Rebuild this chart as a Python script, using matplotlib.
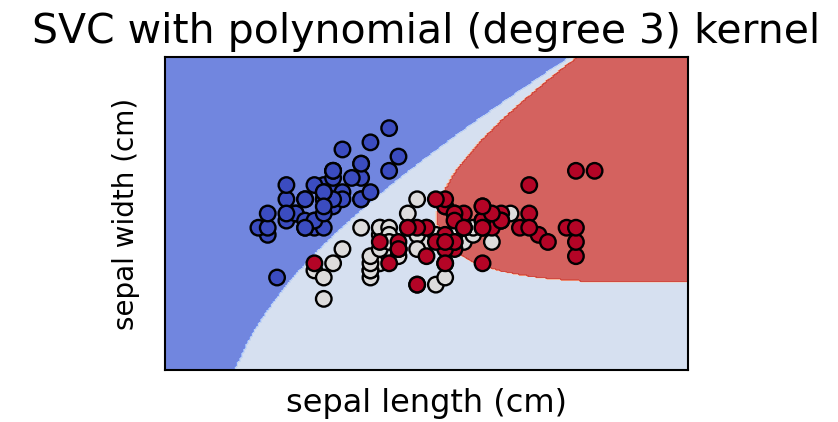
import numpy as np
import matplotlib
matplotlib.use("Agg")
import matplotlib.pyplot as plt

# iris: sepal length, sepal width, class
sepal_length = [
    5.1, 4.9, 4.7, 4.6, 5.0, 5.4, 4.6, 5.0, 4.4, 4.9, 5.4, 4.8, 4.8, 4.3, 5.8, 5.7, 5.4, 5.1, 5.7, 5.1,
    5.4, 5.1, 4.6, 5.1, 4.8, 5.0, 5.0, 5.2, 5.2, 4.7, 4.8, 5.4, 5.2, 5.5, 4.9, 5.0, 5.5, 4.9, 4.4, 5.1,
    5.0, 4.5, 4.4, 5.0, 5.1, 4.8, 5.1, 4.6, 5.3, 5.0,
    7.0, 6.4, 6.9, 5.5, 6.5, 5.7, 6.3, 4.9, 6.6, 5.2, 5.0, 5.9, 6.0, 6.1, 5.6, 6.7, 5.6, 5.8, 6.2, 5.6,
    5.9, 6.1, 6.3, 6.1, 6.4, 6.6, 6.8, 6.7, 6.0, 5.7, 5.5, 5.5, 5.8, 6.0, 5.4, 6.0, 6.7, 6.3, 5.6, 5.5,
    5.5, 6.1, 5.8, 5.0, 5.6, 5.7, 5.7, 6.2, 5.1, 5.7,
    6.3, 5.8, 7.1, 6.3, 6.5, 7.6, 4.9, 7.3, 6.7, 7.2, 6.5, 6.4, 6.8, 5.7, 5.8, 6.4, 6.5, 7.7, 7.7, 6.0,
    6.9, 5.6, 7.7, 6.3, 6.7, 7.2, 6.2, 6.1, 6.4, 7.2, 7.4, 7.9, 6.4, 6.3, 6.1, 7.7, 6.3, 6.4, 6.0, 6.9,
    6.7, 6.9, 5.8, 6.8, 6.7, 6.7, 6.3, 6.5, 6.2, 5.9]
sepal_width = [
    3.5, 3.0, 3.2, 3.1, 3.6, 3.9, 3.4, 3.4, 2.9, 3.1, 3.7, 3.4, 3.0, 3.0, 4.0, 4.4, 3.9, 3.5, 3.8, 3.8,
    3.4, 3.7, 3.6, 3.3, 3.4, 3.0, 3.4, 3.5, 3.4, 3.2, 3.1, 3.4, 4.1, 4.2, 3.1, 3.2, 3.5, 3.6, 3.0, 3.4,
    3.5, 2.3, 3.2, 3.5, 3.8, 3.0, 3.8, 3.2, 3.7, 3.3,
    3.2, 3.2, 3.1, 2.3, 2.8, 2.8, 3.3, 2.4, 2.9, 2.7, 2.0, 3.0, 2.2, 2.9, 2.9, 3.1, 3.0, 2.7, 2.2, 2.5,
    3.2, 2.8, 2.5, 2.8, 2.9, 3.0, 2.8, 3.0, 2.9, 2.6, 2.4, 2.4, 2.7, 2.7, 3.0, 3.4, 3.1, 2.3, 3.0, 2.5,
    2.6, 3.0, 2.6, 2.3, 2.7, 3.0, 2.9, 2.9, 2.5, 2.8,
    3.3, 2.7, 3.0, 2.9, 3.0, 3.0, 2.5, 2.9, 2.5, 3.6, 3.2, 2.7, 3.0, 2.5, 2.8, 3.2, 3.0, 3.8, 2.6, 2.2,
    3.2, 2.8, 2.8, 2.7, 3.3, 3.2, 2.8, 3.0, 2.8, 3.0, 2.8, 3.8, 2.8, 2.8, 2.6, 3.0, 3.4, 3.1, 3.0, 3.1,
    3.1, 3.1, 2.7, 3.2, 3.3, 3.0, 2.5, 3.0, 3.4, 3.0]
species = [0] * 50 + [1] * 50 + [2] * 50

X = np.column_stack([sepal_length, sepal_width])
y = np.array(species)

C = 1.0
gamma = 0.5  # 'auto' = 1 / n_features
degree = 3


def kern(A, B):
    return (gamma * A @ B.T) ** degree


def fit_pair(Xp, yp):
    # SMO with maximal violating pair (libsvm style)
    K = kern(Xp, Xp)
    Q = yp[:, None] * yp[None, :] * K
    n = len(yp)
    a = np.zeros(n)
    G = -np.ones(n)
    dK = np.diag(K)
    for it in range(200000):
        up = ((yp > 0) & (a < C)) | ((yp < 0) & (a > 0))
        low = ((yp < 0) & (a < C)) | ((yp > 0) & (a > 0))
        v = -yp * G
        iu = np.where(up)[0]
        il = np.where(low)[0]
        i = iu[np.argmax(v[iu])]
        j = il[np.argmin(v[il])]
        if v[i] - v[j] < 1e-3:
            break
        quad = dK[i] + dK[j] - 2 * K[i, j]
        if quad <= 0:
            quad = 1e-12
        t = (v[i] - v[j]) / quad
        t = min(t, C - a[i] if yp[i] > 0 else a[i])
        t = min(t, a[j] if yp[j] > 0 else C - a[j])
        a[i] += yp[i] * t
        a[j] -= yp[j] * t
        G += Q[:, i] * yp[i] * t - Q[:, j] * yp[j] * t
    yG = yp * G
    free = (a > 1e-12) & (a < C - 1e-12)
    if free.any():
        rho = yG[free].mean()
    else:
        ub = np.inf
        lb = -np.inf
        for k in range(n):
            if (a[k] >= C and yp[k] < 0) or (a[k] <= 0 and yp[k] > 0):
                ub = min(ub, yG[k])
            else:
                lb = max(lb, yG[k])
        rho = (ub + lb) / 2
    sv = a > 1e-12
    return Xp[sv], (a * yp)[sv], rho


models = []
for ci in range(3):
    for cj in range(ci + 1, 3):
        m = (y == ci) | (y == cj)
        yp = np.where(y[m] == ci, 1.0, -1.0)
        models.append((ci, cj, fit_pair(X[m], yp)))


def predict(P):
    votes = np.zeros((len(P), 3))
    for ci, cj, (sv, coef, rho) in models:
        d = kern(P, sv) @ coef - rho
        votes[:, ci] += d > 0
        votes[:, cj] += d <= 0
    return np.argmax(votes, axis=1)


x_min, x_max = X[:, 0].min() - 1, X[:, 0].max() + 1
y_min, y_max = X[:, 1].min() - 1, X[:, 1].max() + 1
xx, yy = np.meshgrid(np.linspace(x_min, x_max, 250), np.linspace(y_min, y_max, 250))
Z = predict(np.c_[xx.ravel(), yy.ravel()]).reshape(xx.shape)

fig = plt.figure(figsize=(8.38, 4.22), dpi=100)
ax = fig.add_axes([165 / 838, 52 / 422, 523 / 838, 313 / 422])
ax.contourf(xx, yy, Z, cmap=plt.cm.coolwarm, alpha=0.8)
ax.scatter(X[:, 0], X[:, 1], c=y, cmap=plt.cm.coolwarm, s=125, edgecolors="k", linewidths=1.7)
ax.set_xlim(x_min, x_max)
ax.set_ylim(y_min, y_max)
ax.set_xticks(())
ax.set_yticks(())
for s in ax.spines.values():
    s.set_linewidth(1.5)
ax.set_xlabel("sepal length (cm)", fontsize=23, labelpad=13)
ax.set_ylabel("sepal width (cm)", fontsize=20, labelpad=18)
ax.set_title("SVC with polynomial (degree 3) kernel", fontsize=29.5, pad=10)

fig.savefig("out.png", dpi=100)
